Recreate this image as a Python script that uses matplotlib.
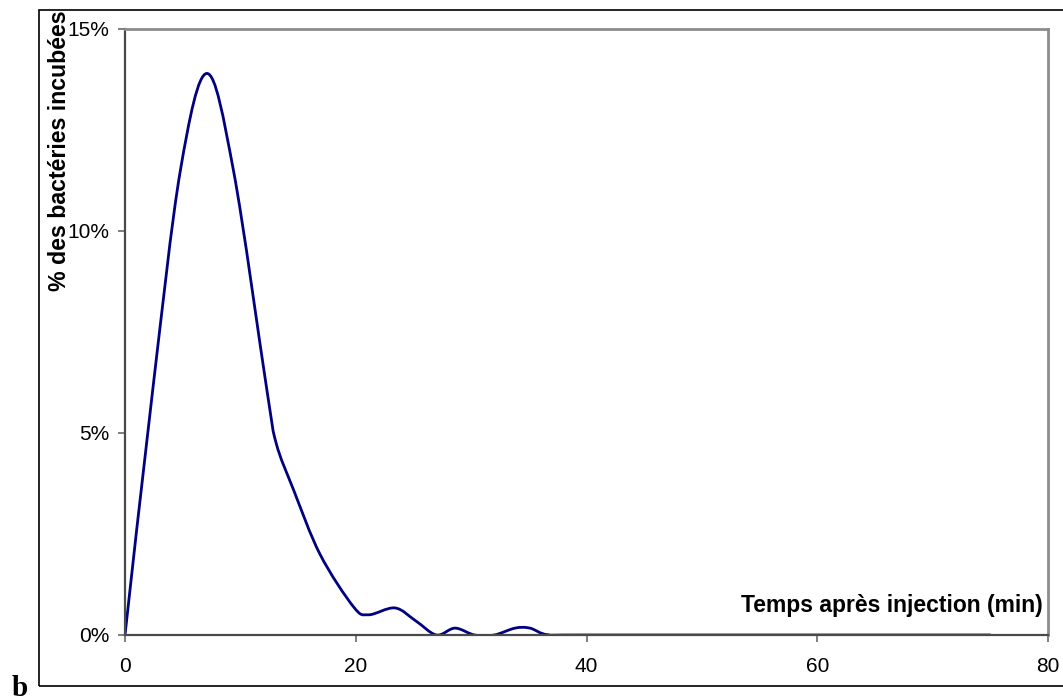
import matplotlib.pyplot as plt
import numpy as np
from matplotlib.path import Path
from matplotlib.patches import PathPatch, Rectangle
from matplotlib.ticker import FuncFormatter

plt.rcParams['font.family'] = ['Liberation Sans', 'DejaVu Sans']

# temps (min) et % des bactéries incubées
temps = [0, 2.4, 4.8, 7.1, 9.4, 12.3, 13.1, 14.6, 16.9, 19.8, 21.1,
         23.4, 25.2, 27.0, 28.6, 30.3, 32.0, 33.8, 35.1, 36.7, 40, 75]
pourcent = [0, 6.06, 11.5, 13.9, 11.5, 6.06, 4.75, 3.6, 2.0, 0.7, 0.5,
            0.67, 0.35, 0, 0.17, 0, 0, 0.17, 0.17, 0, 0, 0]

xticks = [0, 20, 40, 60, 80]
yticks = [0, 5, 10, 15]


def smooth_path(x, y):
    # Excel-like smoothed line: cubic Bezier segments (Catmull-Rom style)
    p = np.column_stack([x, y]).astype(float)
    n = len(p)
    verts = [p[0]]
    codes = [Path.MOVETO]
    for i in range(n - 1):
        p0 = p[i - 1] if i > 0 else p[i]
        p3 = p[i + 2] if i + 2 < n else p[i + 1]
        c1 = p[i] + (p[i + 1] - p0) / 6
        c2 = p[i + 1] - (p3 - p[i]) / 6
        verts += [c1, c2, p[i + 1]]
        codes += [Path.CURVE4] * 3
    return Path(verts, codes)


fig = plt.figure(figsize=(10.63, 7), dpi=100)
ax = fig.add_axes([125 / 1063, 65 / 700, 923 / 1063, 606 / 700])

ax.add_patch(PathPatch(smooth_path(temps, pourcent), facecolor='none',
                       edgecolor='#000080', lw=2.0, capstyle='round'))

ax.set_xlim(0, 80)
ax.set_ylim(0, 15)
ax.set_xticks(xticks)
ax.set_yticks(yticks)
ax.yaxis.set_major_formatter(FuncFormatter(lambda v, p: f'{v:.0f}%'))

for s in ['top', 'right']:
    ax.spines[s].set_color('#8c8c8c')
    ax.spines[s].set_linewidth(2)
for s in ['left', 'bottom']:
    ax.spines[s].set_color('#4a4a4a')
    ax.spines[s].set_linewidth(1.6)

ax.tick_params(axis='x', length=5, width=1.2, color='#6a6a6a', pad=11,
               labelsize=15)
ax.tick_params(axis='y', length=5, width=1.2, color='#6a6a6a', pad=6,
               labelsize=15)

ax.text(0.9946, 0.0495, 'Temps après injection (min)', transform=ax.transAxes,
        ha='right', va='center', fontsize=16.5, fontweight='bold')
fig.text(60 / 1063, 1 - 10 / 700, '% des bactéries incubées', rotation=90,
         ha='center', va='top', fontsize=16.7, fontweight='bold')

fig.text(12 / 1063, 4 / 700, 'b', family='Liberation Serif',
         fontweight='bold', fontsize=21, ha='left', va='baseline')

# cadre extérieur
fig.add_artist(Rectangle((39 / 1063, 14 / 700), 1.2, 676 / 700,
                         transform=fig.transFigure, fill=False,
                         edgecolor='black', lw=1.2))

plt.savefig('out.png', dpi=100)
